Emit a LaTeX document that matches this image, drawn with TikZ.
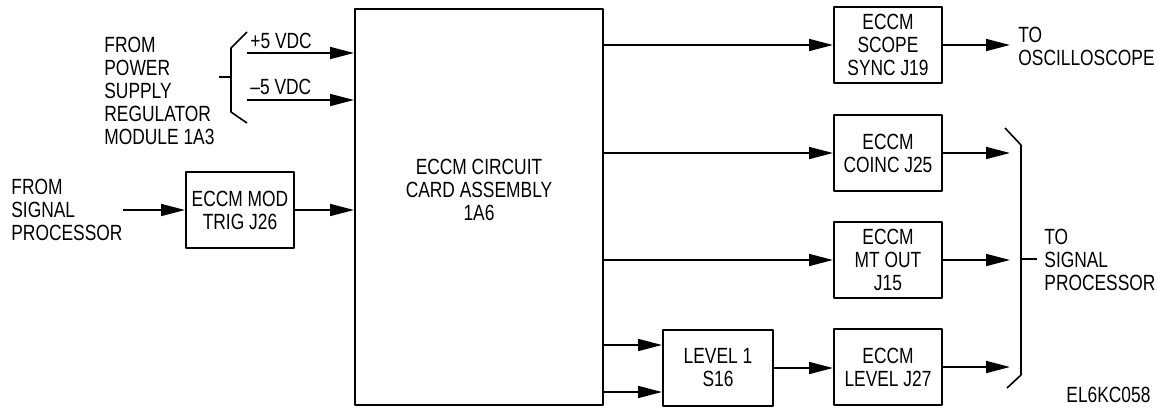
\documentclass[tikz,border=0pt]{standalone}
\usepackage{fontspec}
\setmainfont{Liberation Sans}[FakeStretch=0.79]
\usepackage{xcolor}
\usepackage{tikz}
\usetikzlibrary{arrows.meta,calc}
\definecolor{ecink}{RGB}{0,0,0}
\newcommand{\ecfont}{\fontsize{11}{11.5}\selectfont}
\tikzset{
  ecbox/.style={
    draw=ecink, line width=1pt, align=center, inner sep=0pt,
    minimum width=54pt, minimum height=38pt, font=\ecfont
  },
  arr/.style={-{Triangle[length=12pt,width=6pt]}, draw=ecink, line width=0.8pt},
  wire/.style={draw=ecink, line width=0.8pt},
  anno/.style={font=\ecfont, align=left, inner sep=0pt},
  every picture/.append style={line join=round}
}

\begin{document}
\begin{tikzpicture}[x=0.5pt,y=-0.5pt]
  \useasboundingbox (0,0) rectangle (1158,408);
  % card assembly
  \node[ecbox, minimum width=124pt, minimum height=198pt] (cca) at (479,207) {};
  \node[anno, align=center] (ccatxt) at (479,190) {ECCM CIRCUIT\\CARD ASSEMBLY\\1A6};
  % inputs
  \node[ecbox] (trig) at (240,210) {ECCM MOD\\TRIG J26};
  \node[anno, anchor=west] (fromsp) at (11,210) {FROM\\SIGNAL\\PROCESSOR};
  \node[anno, anchor=west] (frompsr) at (104,91) {FROM\\POWER\\SUPPLY\\REGULATOR\\MODULE 1A3};
  \coordinate (sigin) at (123,210);
  \coordinate (pplus) at (247,53);
  \coordinate (pminus) at (247,100);
  \node[anno, anchor=base west] (lplus) at (250,48) {+5 VDC};
  \node[anno, anchor=base west] (lminus) at (250,94) {–5 VDC};
  \draw[arr] (sigin) -- (trig.west);
  \draw[arr] (trig.east) -- (cca.west |- trig.east);
  \draw[arr] (pplus) -- (cca.west |- pplus);
  \draw[arr] (pminus) -- (cca.west |- pminus);
  \draw[wire] (247,32) -- (231,48) -- (231,112) -- (247,123);
  \draw[wire] (231,77) -- (219,77);
  % outputs
  \node[ecbox] (sync) at (888,45) {ECCM\\SCOPE\\SYNC J19};
  \node[ecbox] (coinc) at (888,153) {ECCM\\COINC J25};
  \node[ecbox] (mtout) at (888,260) {ECCM\\MT OUT\\J15};
  \node[ecbox] (lvl) at (888,367) {ECCM\\LEVEL J27};
  \node[ecbox, minimum width=55pt] (s16) at (718,368) {LEVEL 1\\S16};
  \foreach \b in {sync,coinc,mtout}
    \draw[arr] (cca.east |- \b.west) -- (\b.west);
  \coordinate (s16a) at ($(s16.west)+(0,-23)$);
  \coordinate (s16b) at ($(s16.west)+(0,24)$);
  \draw[arr] (cca.east |- s16a) -- (s16a);
  \draw[arr] (cca.east |- s16b) -- (s16b);
  \draw[arr] (s16.east) -- (s16.east -| lvl.west);
  \coordinate (outx) at (1010,0);
  \foreach \b in {sync,coinc,mtout,lvl}
    \draw[arr] (\b.east) -- (\b.east -| outx);
  \node[anno, anchor=west] (toosc) at (1018,46) {TO\\OSCILLOSCOPE};
  \draw[wire] (1005,128) -- (1021,145) -- (1021,375) -- (1007,388);
  \draw[wire] (1021,259) -- (1037,259);
  \node[anno, anchor=west] (tosp) at (1044,260) {TO\\SIGNAL\\PROCESSOR};
  \node[anno, anchor=west] (figid) at (1066,395) {EL6KC058};
\end{tikzpicture}
\end{document}
